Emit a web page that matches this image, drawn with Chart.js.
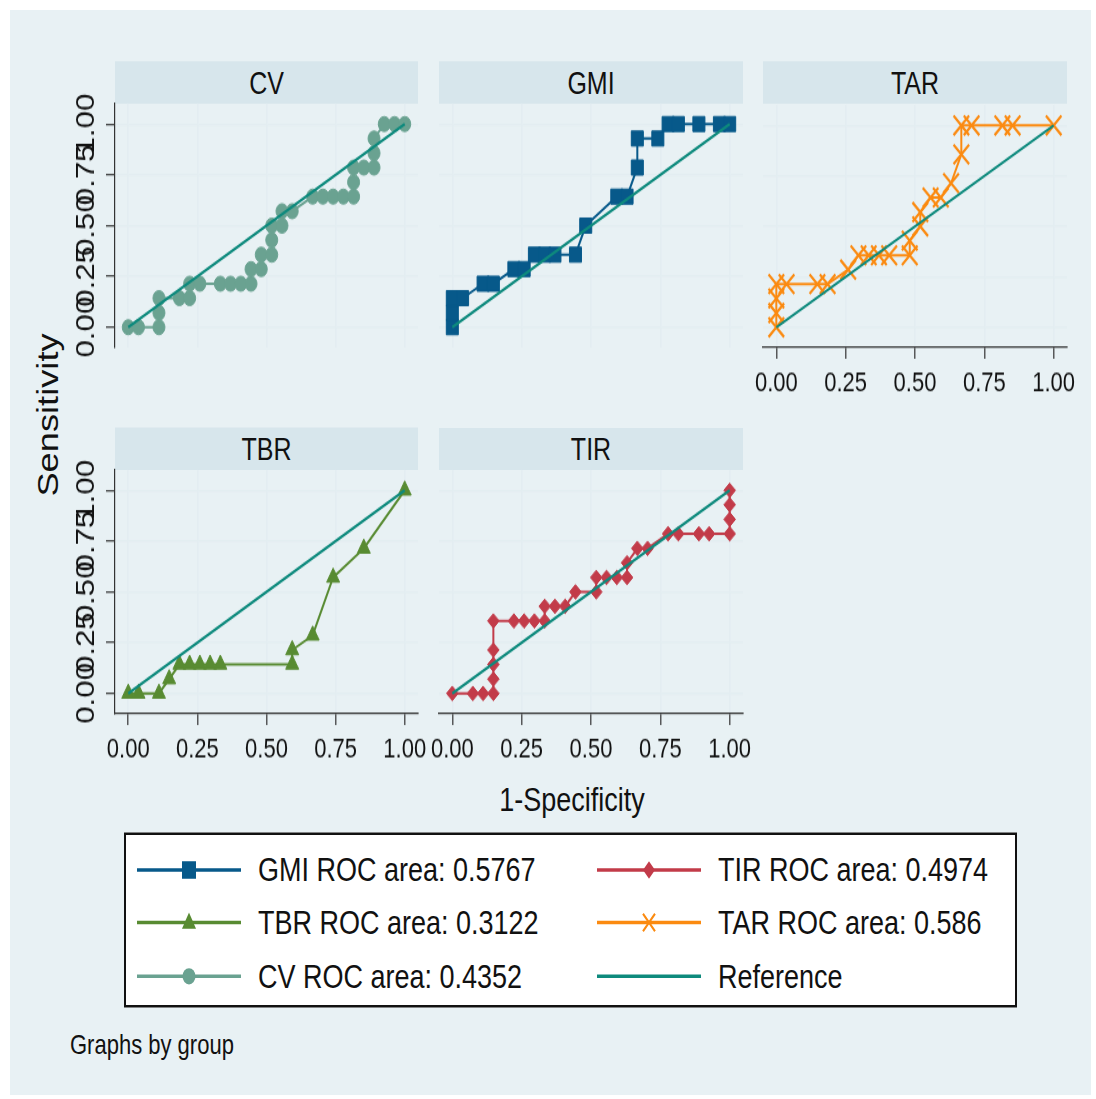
<!DOCTYPE html>
<html>
<head>
<meta charset="utf-8">
<title>ROC curves by group</title>
<script src="https://cdn.jsdelivr.net/npm/chart.js@4.4.1/dist/chart.umd.min.js"></script>
<style>
    html, body { margin: 0; padding: 0; background: #fff; }
    body { width: 1096px; height: 1099px; overflow: hidden; position: relative;
           font-family: 'Liberation Sans', Arial, sans-serif; color: #111; }
    /* the source picture is stretched vertically, so lay out flat and scale */
    #page { position: absolute; left: 0; top: 0; width: 1096px; height: 880px;
            transform: scaleY(1.25); transform-origin: 0 0; }
    #bg { position: absolute; left: 10px; top: 8px; width: 1081px; height: 868px; background: #e8f1f4; }
    .strip { position: absolute; height: 34px; line-height: 34px; background: #d7e6ec;
             text-align: center; font-size: 25px; }
    .panel { position: absolute; }
    .label { position: absolute; white-space: nowrap; }
    #legendBox { position: absolute; left: 124px; top: 666px; width: 889px; height: 136px;
                 background: #fff; border: 2px solid #111; }
    .item { position: absolute; display: flex; align-items: center; height: 30px; font-size: 27px; white-space: nowrap; }
    .item svg { margin-right: 17px; }
</style>
</head>
<body>
<div id="page">
    <div id="bg"></div>
    <div class="label" id="yTitle" style="left:48px; top:332px; font-size:29px; transform:translate(-50%,-50%) rotate(-90deg);">Sensitivity</div>
    <div class="label" id="xTitle" style="left:572px; top:640px; font-size:27px; transform:translate(-50%,-50%);">1-Specificity</div>
    <div class="label" style="left:70px; top:836px; font-size:22px; transform:translateY(-50%);">Graphs by group</div>
    <div id="legendBox"></div>
</div>
<script>
// 1-Specificity (x) and Sensitivity (y)
const cvX = [0, .037, .111, .111, .111, .185, .222, .222, .259, .333, .370, .407, .444, .444, .481, .481, .519, .519, .519, .556, .556, .593, .667, .704, .741, .778, .815, .815, .815, .852, .889, .889, .889, .926, .963, 1];
const cvY = [0, 0, 0, .071, .143, .143, .143, .214, .214, .214, .214, .214, .214, .286, .286, .357, .357, .429, .5, .5, .571, .571, .643, .643, .643, .643, .643, .714, .786, .786, .786, .857, .929, 1, 1, 1];

const gmiX = [0, 0, 0, .037, .111, .148, .222, .259, .296, .333, .370, .444, .481, .593, .630, .667, .667, .741, .778, .815, .889, .963, 1];
const gmiY = [0, .071, .143, .143, .214, .214, .286, .286, .357, .357, .357, .357, .5, .643, .643, .786, .929, .929, 1, 1, 1, 1, 1];

const tarX = [0, 0, 0, 0, .037, .148, .185, .259, .296, .333, .370, .407, .481, .481, .519, .519, .556, .593, .630, .667, .667, .704, .815, .852, 1];
const tarY = [0, .071, .143, .214, .214, .214, .214, .286, .357, .357, .357, .357, .357, .429, .5, .571, .643, .643, .714, .857, 1, 1, 1, 1, 1];

const tbrX = [0, .037, .111, .148, .185, .222, .259, .296, .333, .593, .593, .667, .741, .852, 1];
const tbrY = [0, 0, 0, .071, .143, .143, .143, .143, .143, .143, .214, .286, .571, .714, 1];

const tirX = [0, .074, .111, .148, .148, .148, .148, .148, .222, .259, .296, .333, .333, .370, .407, .444, .519, .519, .556, .593, .630, .630, .667, .704, .778, .815, .889, .926, 1, 1, 1, 1];
const tirY = [0, 0, 0, 0, .071, .143, .214, .357, .357, .357, .357, .357, .429, .429, .429, .5, .5, .571, .571, .571, .571, .643, .714, .714, .786, .786, .786, .786, .786, .857, .929, 1];

const referenceX = [0, 1];
const referenceY = [0, 1];
const tickValues = [0, 0.25, 0.5, 0.75, 1];

// legend, in reading order
const legendNames = ['GMI', 'TIR', 'TBR', 'TAR', 'CV'];
const rocAreas = ['0.5767', '0.4974', '0.3122', '0.586', '0.4352'];

const FONT = "'Liberation Sans', Arial, sans-serif";
const TEXT = '#111';
const AXIS = '#333';
const GRID = '#e3edf1';
const REF_COLOR = '#0e8a7d';

const styles = {
    CV:  { color: '#6aa291', marker: 'circle',   size: 6 },
    GMI: { color: '#07598a', marker: 'rect',     size: 8.5 },
    TAR: { color: '#fb8a10', marker: 'crossRot', size: 11 },
    TBR: { color: '#588b32', marker: 'triangle', size: 7.5 },
    TIR: { color: '#c23b49', marker: 'rectRot',  size: 5.8 }
};

// panel boxes (plot area left/top/width/height, before the vertical stretch)
const panels = [
    { name: 'CV',  xs: cvX,  ys: cvY,  left: 115, top: 83,  width: 303, showY: true,  showX: false },
    { name: 'GMI', xs: gmiX, ys: gmiY, left: 439, top: 83,  width: 304, showY: false, showX: false },
    { name: 'TAR', xs: tarX, ys: tarY, left: 763, top: 83,  width: 304, showY: false, showX: true },
    { name: 'TBR', xs: tbrX, ys: tbrY, left: 115, top: 376, width: 303, showY: true,  showX: true },
    { name: 'TIR', xs: tirX, ys: tirY, left: 439, top: 376, width: 304, showY: false, showX: true }
];
const PLOT_H = 195;
const Y_AXIS_W = 75;
const X_AXIS_H = 45;

function addStrip(p) {
    const strip = document.createElement('div');
    strip.className = 'strip';
    strip.style.left = p.left + 'px';
    strip.style.top = (p.top - 34) + 'px';
    strip.style.width = p.width + 'px';
    strip.textContent = p.name;
    document.getElementById('page').appendChild(strip);
}

function createPanel(p) {
    const st = styles[p.name];
    const pad = {
        top: 12,
        bottom: p.showX ? 0 : 15,
        left: p.showY ? 0 : 25,
        right: 25
    };
    const axisW = p.showY ? Y_AXIS_W : 0;
    const axisH = p.showX ? X_AXIS_H : 0;

    const canvas = document.createElement('canvas');
    canvas.className = 'panel';
    canvas.width = pad.left + axisW + p.width + pad.right;
    canvas.height = pad.top + PLOT_H + axisH + pad.bottom;
    canvas.style.left = (p.left - axisW - pad.left) + 'px';
    canvas.style.top = (p.top - pad.top) + 'px';
    document.getElementById('page').appendChild(canvas);

    const points = p.xs.map((x, i) => ({ x: x, y: p.ys[i] }));
    const refPoints = referenceX.map((x, i) => ({ x: x, y: referenceY[i] }));

    new Chart(canvas.getContext('2d'), {
        type: 'scatter',
        data: {
            datasets: [
                {
                    data: refPoints,
                    showLine: true,
                    borderColor: REF_COLOR,
                    borderWidth: 2.2,
                    pointRadius: 0,
                    order: 0
                },
                {
                    data: points,
                    showLine: true,
                    borderColor: st.color,
                    backgroundColor: st.color,
                    borderWidth: 2,
                    pointStyle: st.marker,
                    pointRadius: st.size,
                    pointBackgroundColor: st.color,
                    pointBorderColor: st.color,
                    pointBorderWidth: st.marker === 'crossRot' ? 2.2 : 1,
                    order: 1
                }
            ]
        },
        options: {
            responsive: false,
            animation: false,
            devicePixelRatio: 1,
            layout: { padding: pad },
            plugins: {
                legend: { display: false },
                tooltip: { enabled: false }
            },
            scales: {
                x: {
                    type: 'linear',
                    min: -0.048,
                    max: 1.048,
                    afterBuildTicks: s => { s.ticks = tickValues.map(v => ({ value: v })); },
                    afterFit: s => {
                        s.height = axisH;
                        s.paddingLeft = 0; s.paddingRight = 0;
                        s.paddingTop = 0; s.paddingBottom = 0;
                    },
                    grid: {
                        color: GRID, lineWidth: 1.6,
                        drawTicks: p.showX, tickLength: 9,
                        tickColor: AXIS, tickWidth: 1.2
                    },
                    border: { display: p.showX, color: AXIS, width: 1.2 },
                    ticks: {
                        display: p.showX,
                        padding: 7,
                        color: TEXT,
                        font: { family: FONT, size: 22 },
                        maxRotation: 0, minRotation: 0,
                        autoSkip: false,
                        callback: v => v.toFixed(2)
                    }
                },
                y: {
                    type: 'linear',
                    min: -0.1,
                    max: 1.1,
                    afterBuildTicks: s => { s.ticks = tickValues.map(v => ({ value: v })); },
                    afterFit: s => {
                        s.width = axisW;
                        s.paddingLeft = 0; s.paddingRight = 0;
                        s.paddingTop = 0; s.paddingBottom = 0;
                    },
                    grid: {
                        color: GRID, lineWidth: 1.4,
                        drawTicks: p.showY, tickLength: 9,
                        tickColor: AXIS, tickWidth: 1.2
                    },
                    border: { display: p.showY, color: AXIS, width: 1.2 },
                    ticks: {
                        display: p.showY,
                        padding: -5,
                        crossAlign: 'center',
                        color: TEXT,
                        font: { family: FONT, size: 25 },
                        minRotation: 90, maxRotation: 90,
                        autoSkip: false,
                        callback: v => v.toFixed(2)
                    }
                }
            }
        }
    });
}

function legendSwatch(color, marker) {
    const cx = 52, cy = 15;
    let shape = '';
    if (marker === 'rect') {
        shape = `<rect x="${cx - 7}" y="${cy - 7}" width="14" height="14" fill="${color}"/>`;
    } else if (marker === 'triangle') {
        shape = `<polygon points="${cx},${cy - 8} ${cx + 7},${cy + 5} ${cx - 7},${cy + 5}" fill="${color}"/>`;
    } else if (marker === 'circle') {
        shape = `<circle cx="${cx}" cy="${cy}" r="6.5" fill="${color}"/>`;
    } else if (marker === 'rectRot') {
        shape = `<polygon points="${cx},${cy - 7} ${cx + 6},${cy} ${cx},${cy + 7} ${cx - 6},${cy}" fill="${color}"/>`;
    } else if (marker === 'crossRot') {
        shape = `<path d="M${cx - 6} ${cy - 7} L${cx + 6} ${cy + 7} M${cx + 6} ${cy - 7} L${cx - 6} ${cy + 7}" stroke="${color}" stroke-width="2"/>`;
    }
    return `<svg width="104" height="30" viewBox="0 0 104 30">` +
        `<line x1="0" y1="${cy}" x2="104" y2="${cy}" stroke="${color}" stroke-width="2.8"/>${shape}</svg>`;
}

function buildLegend() {
    const page = document.getElementById('page');
    const rowsY = [696, 738, 781];
    const colsX = [137, 597];
    const entries = legendNames.map((n, i) => ({
        text: n + ' ROC area: ' + rocAreas[i],
        color: styles[n].color,
        marker: styles[n].marker
    }));
    entries.push({ text: 'Reference', color: REF_COLOR, marker: null });

    entries.forEach((e, i) => {
        const item = document.createElement('div');
        item.className = 'item';
        item.style.left = colsX[i % 2] + 'px';
        item.style.top = (rowsY[Math.floor(i / 2)] - 15) + 'px';
        item.innerHTML = legendSwatch(e.color, e.marker) + '<span>' + e.text + '</span>';
        page.appendChild(item);
    });
}

panels.forEach(p => {
    addStrip(p);
    createPanel(p);
});
buildLegend();
</script>
</body>
</html>
